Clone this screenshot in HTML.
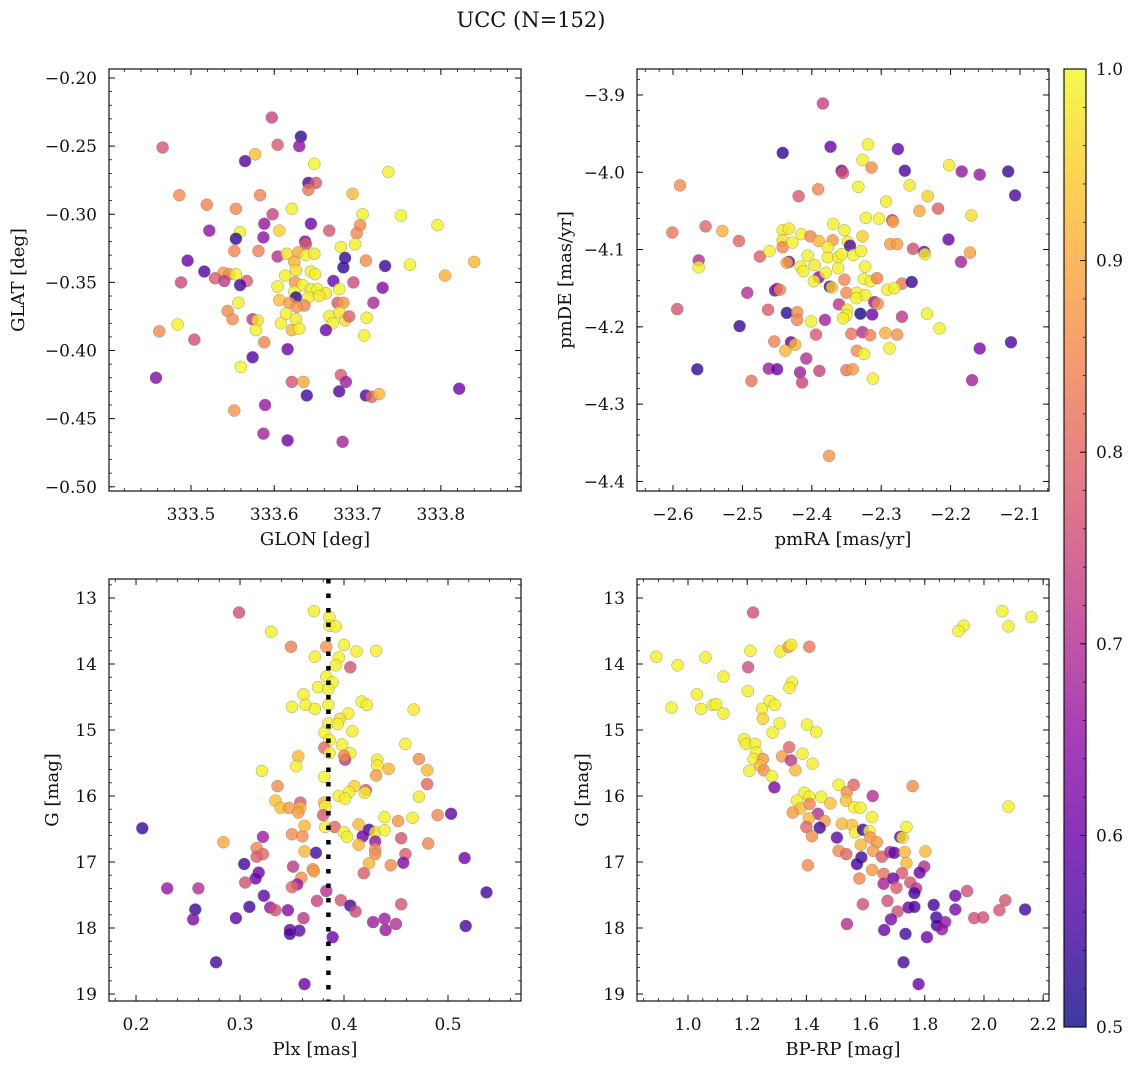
<!DOCTYPE html>
<html><head><meta charset="utf-8">
<style>
html,body{margin:0;padding:0;background:#fff;}
svg text{font-family:"DejaVu Serif","Liberation Serif",serif;fill:#111;}
</style></head>
<body>
<svg id="fig" width="1136" height="1068" viewBox="0 0 1136 1068" xmlns="http://www.w3.org/2000/svg">
<text x="531" y="27" font-size="21" text-anchor="middle">UCC (N=152)</text>
</svg>
<script>
// ---------- Panel 1: GLON / GLAT ----------
const p1_glon=[333.466,333.597,333.632,333.630,333.604,333.565,333.577,333.648,333.737,333.641,333.650,333.641,333.486,333.583,333.694,333.519,333.554,333.621,333.598,333.706,333.752,333.796,333.588,333.644,333.522,333.559,333.606,333.666,333.703,333.699,333.554,333.587,333.637,333.638,333.697,333.680,333.552,333.581,333.604,333.615,333.629,333.638,333.648,333.685,333.496,333.710,333.733,333.763,333.840,333.624,333.683,333.516,333.539,333.546,333.554,333.626,333.644,333.649,333.613,333.805,333.488,333.529,333.540,333.567,333.559,333.671,333.695,333.730,333.604,333.625,333.634,333.644,333.652,333.662,333.678,333.624,333.626,333.606,333.618,333.641,333.654,333.636,333.627,333.676,333.683,333.719,333.557,333.544,333.550,333.574,333.580,333.578,333.614,333.626,333.608,333.621,333.630,333.666,333.678,333.670,333.685,333.690,333.662,333.711,333.708,333.462,333.484,333.504,333.588,333.616,333.574,333.560,333.458,333.621,333.635,333.680,333.686,333.639,333.678,333.710,333.717,333.726,333.822,333.552,333.589,333.587,333.616,333.682];
const p1_glat=[-0.251,-0.229,-0.243,-0.250,-0.249,-0.261,-0.256,-0.263,-0.269,-0.277,-0.277,-0.282,-0.286,-0.286,-0.285,-0.293,-0.296,-0.296,-0.300,-0.300,-0.301,-0.308,-0.307,-0.307,-0.312,-0.313,-0.312,-0.312,-0.308,-0.314,-0.318,-0.317,-0.320,-0.322,-0.322,-0.324,-0.327,-0.327,-0.331,-0.329,-0.328,-0.330,-0.329,-0.332,-0.334,-0.334,-0.338,-0.337,-0.335,-0.335,-0.339,-0.342,-0.343,-0.344,-0.344,-0.341,-0.342,-0.344,-0.345,-0.345,-0.350,-0.347,-0.349,-0.349,-0.352,-0.349,-0.350,-0.354,-0.353,-0.350,-0.352,-0.355,-0.355,-0.358,-0.355,-0.357,-0.361,-0.363,-0.365,-0.361,-0.360,-0.367,-0.368,-0.365,-0.365,-0.365,-0.365,-0.371,-0.377,-0.377,-0.378,-0.385,-0.373,-0.377,-0.380,-0.385,-0.384,-0.375,-0.372,-0.380,-0.378,-0.375,-0.385,-0.376,-0.389,-0.386,-0.381,-0.392,-0.394,-0.399,-0.405,-0.412,-0.420,-0.423,-0.423,-0.418,-0.423,-0.433,-0.430,-0.433,-0.434,-0.432,-0.428,-0.444,-0.440,-0.461,-0.466,-0.467];
const p1_prob=[0.77,0.74,0.53,0.65,0.78,0.57,0.93,1.0,0.99,0.55,0.78,0.83,0.86,0.85,0.92,0.84,0.85,0.99,0.74,0.99,1.0,0.99,0.66,0.60,0.65,0.99,0.95,0.77,0.86,0.85,0.53,0.65,0.62,0.78,0.99,0.99,0.85,0.84,0.70,0.97,0.90,0.99,0.98,0.54,0.60,0.86,0.54,0.99,0.92,0.91,0.53,0.57,0.88,0.86,0.99,0.97,0.99,0.99,0.99,0.91,0.75,0.78,0.72,0.78,0.55,0.60,0.75,0.63,0.99,0.87,0.99,0.99,0.99,0.98,1.0,1.0,0.53,0.93,0.88,0.99,0.98,0.85,0.87,0.78,0.88,0.69,0.99,0.86,0.86,0.72,0.97,0.99,0.99,0.98,0.99,0.92,0.99,0.99,0.98,0.99,0.97,0.79,0.60,0.99,0.99,0.86,0.99,0.76,0.85,0.60,0.57,1.0,0.63,0.77,0.90,0.78,0.67,0.55,0.57,0.57,0.80,0.92,0.60,0.87,0.66,0.68,0.60,0.68];
const p1_xticks=[333.5,333.6,333.7,333.8];
const p1_yticks=[-0.20,-0.25,-0.30,-0.35,-0.40,-0.45,-0.50];

// ---------- Panel 2: pmRA / pmDE ----------
const p2_pmra=[-2.384,-2.442,-2.373,-2.319,-2.276,-2.327,-2.314,-2.357,-2.355,-2.266,-2.202,-2.184,-2.158,-2.117,-2.107,-2.590,-2.391,-2.419,-2.333,-2.259,-2.233,-2.293,-2.245,-2.218,-2.170,-2.601,-2.553,-2.529,-2.505,-2.475,-2.461,-2.442,-2.433,-2.415,-2.402,-2.390,-2.370,-2.369,-2.353,-2.348,-2.345,-2.327,-2.322,-2.303,-2.284,-2.283,-2.287,-2.277,-2.254,-2.238,-2.237,-2.203,-2.172,-2.185,-2.563,-2.563,-2.442,-2.442,-2.428,-2.433,-2.436,-2.416,-2.406,-2.412,-2.396,-2.390,-2.397,-2.380,-2.377,-2.377,-2.362,-2.357,-2.340,-2.329,-2.362,-2.323,-2.353,-2.325,-2.315,-2.306,-2.374,-2.371,-2.270,-2.256,-2.291,-2.281,-2.350,-2.335,-2.323,-2.336,-2.493,-2.453,-2.450,-2.446,-2.594,-2.463,-2.436,-2.421,-2.421,-2.401,-2.381,-2.361,-2.349,-2.350,-2.355,-2.330,-2.313,-2.310,-2.305,-2.270,-2.234,-2.216,-2.504,-2.394,-2.343,-2.327,-2.316,-2.294,-2.277,-2.288,-2.335,-2.325,-2.454,-2.430,-2.424,-2.438,-2.408,-2.565,-2.462,-2.450,-2.417,-2.389,-2.414,-2.487,-2.350,-2.341,-2.312,-2.158,-2.113,-2.169,-2.375];
const p2_pmde=[-3.911,-3.975,-3.967,-3.964,-3.970,-3.984,-3.994,-3.998,-4.001,-3.998,-3.991,-3.999,-4.003,-3.999,-4.030,-4.017,-4.022,-4.031,-4.019,-4.017,-4.031,-4.038,-4.050,-4.047,-4.056,-4.078,-4.070,-4.076,-4.089,-4.109,-4.102,-4.075,-4.073,-4.080,-4.083,-4.089,-4.088,-4.067,-4.075,-4.090,-4.095,-4.083,-4.059,-4.060,-4.062,-4.064,-4.093,-4.093,-4.099,-4.103,-4.106,-4.087,-4.104,-4.116,-4.114,-4.123,-4.088,-4.097,-4.091,-4.116,-4.117,-4.122,-4.108,-4.128,-4.120,-4.136,-4.141,-4.130,-4.110,-4.097,-4.110,-4.106,-4.107,-4.102,-4.124,-4.122,-4.139,-4.138,-4.141,-4.137,-4.148,-4.149,-4.144,-4.142,-4.152,-4.150,-4.156,-4.156,-4.159,-4.163,-4.156,-4.153,-4.151,-4.152,-4.177,-4.178,-4.182,-4.181,-4.191,-4.193,-4.191,-4.171,-4.178,-4.185,-4.189,-4.183,-4.184,-4.168,-4.170,-4.187,-4.183,-4.202,-4.199,-4.210,-4.209,-4.207,-4.211,-4.208,-4.210,-4.228,-4.231,-4.235,-4.219,-4.220,-4.223,-4.231,-4.241,-4.255,-4.254,-4.255,-4.259,-4.257,-4.272,-4.270,-4.256,-4.255,-4.267,-4.228,-4.220,-4.269,-4.367];
const p2_prob=[0.74,0.53,0.60,0.99,0.59,0.99,0.86,0.60,0.76,0.56,0.98,0.66,0.66,0.54,0.56,0.86,0.85,0.78,0.99,0.98,0.95,0.98,0.90,0.79,0.97,0.83,0.80,0.91,0.80,0.79,0.99,0.98,0.98,0.99,0.85,0.92,0.88,0.99,0.99,0.99,0.57,0.95,0.99,0.99,0.70,0.90,0.88,0.88,0.76,0.60,0.99,0.59,0.89,0.68,0.70,0.99,0.97,0.85,0.99,0.60,0.90,0.99,0.99,0.99,0.98,0.65,0.99,0.99,0.99,0.99,0.99,0.99,0.99,0.99,0.99,0.99,0.85,0.99,0.99,0.84,0.53,0.95,0.83,0.54,0.99,0.99,0.86,0.99,0.99,0.99,0.70,0.60,0.65,0.86,0.77,0.78,0.53,0.86,0.85,0.99,0.68,0.72,0.99,0.99,0.99,0.50,0.60,0.66,0.86,0.72,0.99,0.99,0.54,0.78,0.82,0.70,0.84,0.91,0.87,0.99,0.86,0.99,0.84,0.60,0.92,0.92,0.70,0.54,0.67,0.60,0.67,0.74,0.74,0.82,0.82,0.88,0.99,0.62,0.56,0.68,0.87];
const p2_xticks=[-2.6,-2.5,-2.4,-2.3,-2.2,-2.1];
const p2_yticks=[-3.9,-4.0,-4.1,-4.2,-4.3,-4.4];

// ---------- Panel 3: Plx / G ----------
const p3_plx=[0.299,0.371,0.386,0.386,0.392,0.330,0.349,0.383,0.400,0.412,0.431,0.372,0.395,0.392,0.406,0.383,0.389,0.375,0.385,0.361,0.363,0.350,0.372,0.385,0.417,0.422,0.467,0.404,0.396,0.385,0.394,0.408,0.381,0.386,0.459,0.381,0.398,0.386,0.406,0.401,0.400,0.356,0.354,0.321,0.432,0.432,0.443,0.472,0.480,0.480,0.431,0.381,0.336,0.410,0.421,0.420,0.405,0.395,0.401,0.472,0.334,0.339,0.347,0.358,0.358,0.356,0.381,0.382,0.380,0.490,0.503,0.466,0.452,0.439,0.382,0.391,0.400,0.403,0.414,0.424,0.418,0.430,0.439,0.414,0.430,0.455,0.481,0.206,0.284,0.322,0.350,0.360,0.362,0.316,0.316,0.322,0.373,0.362,0.430,0.430,0.459,0.457,0.424,0.445,0.419,0.516,0.304,0.318,0.315,0.351,0.370,0.371,0.359,0.305,0.355,0.350,0.230,0.260,0.323,0.383,0.374,0.397,0.406,0.411,0.455,0.537,0.257,0.255,0.296,0.309,0.329,0.334,0.346,0.361,0.348,0.348,0.357,0.389,0.428,0.439,0.440,0.450,0.517,0.277,0.362];
const p3_g=[13.22,13.20,13.29,13.42,13.43,13.51,13.74,13.74,13.71,13.81,13.80,13.89,13.90,14.02,14.05,14.19,14.28,14.35,14.38,14.46,14.62,14.65,14.68,14.62,14.57,14.62,14.69,14.75,14.83,14.90,14.91,15.02,15.04,15.15,15.21,15.27,15.22,15.35,15.35,15.45,15.39,15.40,15.55,15.62,15.45,15.54,15.59,15.44,15.61,15.82,15.69,15.71,15.85,15.85,15.91,15.95,15.94,16.00,16.04,16.01,16.07,16.18,16.18,16.10,16.18,16.25,16.10,16.16,16.29,16.29,16.27,16.33,16.38,16.32,16.47,16.47,16.55,16.62,16.43,16.51,16.61,16.55,16.52,16.74,16.69,16.64,16.72,16.49,16.70,16.62,16.58,16.61,16.45,16.79,16.92,16.88,16.86,16.84,16.81,16.88,16.88,17.01,17.02,17.05,17.17,16.94,17.03,17.16,17.25,17.07,17.11,17.14,17.24,17.31,17.34,17.38,17.40,17.40,17.51,17.44,17.59,17.58,17.66,17.75,17.64,17.46,17.72,17.87,17.85,17.68,17.69,17.73,17.73,17.85,18.03,18.09,18.04,18.14,17.91,17.86,18.03,17.94,17.97,18.52,18.85];
const p3_prob=[0.76,0.99,0.99,0.99,0.99,0.99,0.84,0.87,0.99,0.99,0.99,0.99,0.99,0.99,0.77,0.99,0.99,0.99,0.99,0.99,0.99,0.99,0.99,0.99,0.99,0.99,0.98,0.99,0.97,0.99,0.99,0.99,0.99,0.99,0.99,0.80,0.99,0.99,0.99,0.72,0.85,0.92,0.99,0.99,0.98,0.98,0.92,0.86,0.92,0.80,0.88,0.99,0.86,0.95,0.78,0.99,0.99,0.99,0.99,0.98,0.93,0.93,0.88,0.78,0.93,0.88,0.92,0.99,0.78,0.85,0.58,0.99,0.87,0.99,0.99,0.80,0.99,0.99,0.92,0.55,0.60,0.97,0.99,0.92,0.66,0.77,0.85,0.54,0.90,0.67,0.86,0.86,0.92,0.85,0.78,0.80,0.55,0.92,0.87,0.86,0.78,0.63,0.92,0.86,0.78,0.60,0.55,0.60,0.60,0.72,0.86,0.88,0.86,0.76,0.66,0.80,0.66,0.70,0.58,0.70,0.74,0.77,0.55,0.75,0.77,0.55,0.54,0.62,0.58,0.55,0.66,0.76,0.63,0.72,0.60,0.56,0.58,0.60,0.67,0.67,0.66,0.70,0.55,0.55,0.60];
const p3_xticks=[0.2,0.3,0.4,0.5];
const p3_yticks=[13,14,15,16,17,18,19];
const p3_plxMean=[0.385];

// ---------- Panel 4: BP-RP / G ----------
const p4_bprp=[1.220,0.893,0.965,1.059,0.944,1.030,1.044,1.084,1.095,1.120,1.120,1.211,1.203,1.202,1.312,1.340,1.349,1.410,1.351,1.343,1.276,1.293,1.250,1.253,1.310,1.286,1.402,1.433,2.062,2.083,2.160,1.931,1.914,2.083,1.190,1.196,1.227,1.230,1.222,1.253,1.244,1.256,1.207,1.283,1.342,1.318,1.348,1.363,1.387,1.421,1.292,1.509,1.560,1.537,1.534,1.562,1.582,1.624,1.759,1.393,1.410,1.368,1.379,1.354,1.450,1.481,1.411,1.439,1.408,1.462,1.445,1.400,1.419,1.520,1.554,1.565,1.591,1.613,1.622,1.616,1.584,1.638,1.503,1.509,1.535,1.586,1.571,1.625,1.655,1.683,1.697,1.738,1.717,1.725,1.732,1.738,1.802,1.798,1.783,1.405,1.622,1.579,1.661,1.723,1.661,1.693,1.704,1.751,1.771,1.765,1.674,1.591,1.708,1.745,1.765,1.830,1.839,1.869,1.841,1.858,1.903,1.903,1.943,1.967,1.997,2.052,2.072,2.139,1.686,1.663,1.735,1.807,1.537,1.728,1.779];
const p4_g=[13.22,13.89,14.02,13.90,14.66,14.46,14.68,14.62,14.61,14.19,14.75,13.80,14.05,14.41,13.81,13.74,13.71,13.74,14.28,14.36,14.56,14.62,14.68,14.83,14.90,15.04,14.92,15.03,13.20,13.43,13.29,13.42,13.50,16.16,15.14,15.21,15.21,15.34,15.44,15.44,15.54,15.61,15.62,15.70,15.26,15.40,15.46,15.61,15.36,15.51,15.87,15.83,15.83,15.94,16.07,16.17,16.18,16.00,15.85,15.95,16.01,16.07,16.19,16.25,16.01,16.11,16.12,16.27,16.34,16.38,16.48,16.47,16.61,16.42,16.44,16.55,16.51,16.53,16.32,16.63,16.74,16.70,16.63,16.83,16.88,16.93,17.03,16.83,16.92,16.85,16.86,16.47,16.62,16.63,16.85,17.02,16.84,17.07,17.16,17.05,17.12,17.25,17.18,17.17,17.33,17.25,17.39,17.31,17.40,17.47,17.59,17.64,17.75,17.69,17.68,17.65,17.84,17.91,17.96,18.02,17.51,17.72,17.44,17.85,17.84,17.73,17.58,17.72,17.87,18.03,18.09,18.14,17.94,18.52,18.85];
const p4_prob=[0.76,0.99,0.99,0.99,0.99,0.99,0.99,0.99,0.99,0.99,0.99,0.99,0.76,0.99,0.99,0.88,0.99,0.83,0.99,0.99,0.99,0.99,0.99,0.95,0.99,0.99,0.99,0.99,0.99,0.99,0.99,0.99,0.99,0.99,0.99,0.99,0.99,0.99,0.99,0.88,0.93,0.87,0.99,0.99,0.80,0.88,0.72,0.92,0.99,0.99,0.62,0.99,0.80,0.86,0.93,0.99,0.99,0.70,0.86,0.99,0.99,0.99,0.93,0.88,0.99,0.93,0.85,0.70,0.92,0.88,0.55,0.80,0.86,0.92,0.93,0.99,0.55,0.99,0.99,0.87,0.92,0.88,0.58,0.86,0.80,0.55,0.55,0.88,0.78,0.70,0.58,0.99,0.60,0.97,0.92,0.92,0.92,0.70,0.60,0.86,0.88,0.85,0.82,0.78,0.68,0.60,0.78,0.76,0.72,0.55,0.76,0.76,0.76,0.60,0.55,0.55,0.55,0.66,0.55,0.66,0.60,0.62,0.76,0.76,0.76,0.77,0.77,0.55,0.62,0.60,0.55,0.60,0.70,0.55,0.60];
const p4_xticks=[1.0,1.2,1.4,1.6,1.8,2.0,2.2];
const p4_yticks=[13,14,15,16,17,18,19];

// ---------- Colorbar ----------
const cb_ticks=[0.5,0.6,0.7,0.8,0.9,1.0];
const cb_range=[0.5,1.0];

const NS='http://www.w3.org/2000/svg';
const svg=document.getElementById('fig');
function el(tag,attrs,parent){const e=document.createElementNS(NS,tag);for(const k in attrs)e.setAttribute(k,attrs[k]);(parent||svg).appendChild(e);return e;}
function lin(d0,d1,r0,r1){return v=>r0+(v-d0)*(r1-r0)/(d1-d0);}
const PL=[[0,13,8,135],[0.1,65,4,157],[0.2,106,0,168],[0.3,143,13,164],[0.4,177,42,144],[0.5,204,71,120],[0.6,225,100,98],[0.7,242,132,75],[0.8,252,166,54],[0.9,252,206,37],[1,240,249,33]];
function plasma(t){t=Math.max(0,Math.min(1,t));for(let i=1;i<PL.length;i++){if(t<=PL[i][0]){const a=PL[i-1],b=PL[i],f=(t-a[0])/(b[0]-a[0]);return 'rgb('+[1,2,3].map(j=>Math.round(a[j]+f*(b[j]-a[j]))).join(',')+')';}}return 'rgb(240,249,33)';}
function fmtNum(v,d){const s=Math.abs(v).toFixed(d);return (v<0?'\u2212':'')+s;}

function panel(cfg){
  const g=el('g',{});
  
  
  const {x0,x1,y0,y1}=cfg.box;
  const sx=lin(cfg.xd[0],cfg.xd[1],x0,x1), sy=lin(cfg.yd[0],cfg.yd[1],y1,y0);
  const pts=el('g',{},g);
  
  
  for(let i=0;i<cfg.xs.length;i++){
    const c=el('circle',{cx:sx(cfg.xs[i]).toFixed(1),cy:sy(cfg.ys[i]).toFixed(1),r:6,fill:plasma((cfg.ps[i]-0.5)/0.5),'fill-opacity':0.8,stroke:'#777','stroke-width':0.5,'stroke-opacity':0.7},pts);
    
    
  }
  if(cfg.extra)cfg.extra(g,sx,sy);
  const fr=el('rect',{x:x0,y:y0,width:x1-x0,height:y1-y0,fill:'none',stroke:'#111','stroke-width':1.2},g);
  
  
  const xa=el('g',{},g);
  
  
  const lo=Math.min(cfg.xd[0],cfg.xd[1]),hi=Math.max(cfg.xd[0],cfg.xd[1]);
  for(let v=Math.ceil(lo/cfg.xminor-1e-9)*cfg.xminor;v<=hi+1e-9;v+=cfg.xminor){const x=sx(v);el('line',{x1:x,x2:x,y1:y1,y2:y1-3,stroke:'#111','stroke-width':0.8},xa);el('line',{x1:x,x2:x,y1:y0,y2:y0+3,stroke:'#111','stroke-width':0.8},xa);}
  cfg.xticks.forEach(v=>{const x=sx(v);el('line',{x1:x,x2:x,y1:y1,y2:y1-6,stroke:'#111','stroke-width':1},xa);el('line',{x1:x,x2:x,y1:y0,y2:y0+6,stroke:'#111','stroke-width':1},xa);
    const t=el('text',{x:x,y:y1+29,'font-size':17,'text-anchor':'middle'},xa);t.textContent=fmtNum(v,cfg.xdec);
    
    });
  const xl=el('text',{x:(x0+x1)/2,y:y1+54,'font-size':18,'text-anchor':'middle'},g);xl.textContent=cfg.xlabel;
  
  
  const ya=el('g',{},g);
  
  
  const ylo=Math.min(cfg.yd[0],cfg.yd[1]),yhi=Math.max(cfg.yd[0],cfg.yd[1]);
  for(let v=Math.ceil(ylo/cfg.yminor-1e-9)*cfg.yminor;v<=yhi+1e-9;v+=cfg.yminor){const y=sy(v);el('line',{x1:x0,x2:x0+3,y1:y,y2:y,stroke:'#111','stroke-width':0.8},ya);el('line',{x1:x1,x2:x1-3,y1:y,y2:y,stroke:'#111','stroke-width':0.8},ya);}
  cfg.yticks.forEach(v=>{const y=sy(v);el('line',{x1:x0,x2:x0+6,y1:y,y2:y,stroke:'#111','stroke-width':1},ya);el('line',{x1:x1,x2:x1-6,y1:y,y2:y,stroke:'#111','stroke-width':1},ya);
    const t=el('text',{x:x0-12,y:y+6,'font-size':17,'text-anchor':'end'},ya);t.textContent=fmtNum(v,cfg.ydec);
    
    });
  const yl=el('text',{x:0,y:0,'font-size':18,'text-anchor':'middle',transform:`translate(${cfg.ylabelX},${(y0+y1)/2}) rotate(-90)`},g);yl.textContent=cfg.ylabel;
  
  
}

panel({name:'sky-position-panel',box:{x0:109,x1:521,y0:69,y1:491},xd:[333.4016,333.8962],yd:[-0.5031,-0.1934],xs:p1_glon,ys:p1_glat,ps:p1_prob,xticks:p1_xticks,yticks:p1_yticks,xminor:0.02,yminor:0.01,xdec:1,ydec:2,xlabel:'GLON [deg]',ylabel:'GLAT [deg]',ylabelX:24});
panel({name:'proper-motion-panel',box:{x0:637,x1:1049,y0:69,y1:491},xd:[-2.6519,-2.0582],yd:[-4.4124,-3.8664],xs:p2_pmra,ys:p2_pmde,ps:p2_prob,xticks:p2_xticks,yticks:p2_yticks,xminor:0.02,yminor:0.02,xdec:1,ydec:1,xlabel:'pmRA [mas/yr]',ylabel:'pmDE [mas/yr]',ylabelX:571});
panel({name:'parallax-panel',box:{x0:109,x1:521,y0:579,y1:1001},xd:[0.174,0.5702],yd:[19.106,12.712],xs:p3_plx,ys:p3_g,ps:p3_prob,xticks:p3_xticks,yticks:p3_yticks,xminor:0.02,yminor:0.2,xdec:1,ydec:0,xlabel:'Plx [mas]',ylabel:'G [mag]',ylabelX:58,
  extra:(g,sx,sy)=>{const x=sx(p3_plxMean[0]);const l=el('line',{x1:x,x2:x,y1:579,y2:1001,stroke:'#000','stroke-width':4.5,'stroke-dasharray':'4.5 10'},g);
    
    }});
panel({name:'cmd-panel',box:{x0:637,x1:1049,y0:579,y1:1001},xd:[0.8277,2.2197],yd:[19.106,12.712],xs:p4_bprp,ys:p4_g,ps:p4_prob,xticks:p4_xticks,yticks:p4_yticks,xminor:0.05,yminor:0.2,xdec:1,ydec:0,xlabel:'BP-RP [mag]',ylabel:'G [mag]',ylabelX:588});

(function(){
  const cb=el('g',{});
  
  
  const defs=el('defs',{},cb);
  const lg=el('linearGradient',{id:'plg',x1:0,y1:1,x2:0,y2:0},defs);
  for(let i=0;i<=20;i++){el('stop',{offset:(i/20),'stop-color':plasma(i/20)},lg);}
  const X0=1064,X1=1086,Y0=69,Y1=1027;
  const sy=lin(cb_range[0],cb_range[1],Y1,Y0);
  el('rect',{x:X0,y:Y0,width:X1-X0,height:Y1-Y0,fill:'url(#plg)','fill-opacity':0.8},cb);
  el('rect',{x:X0,y:Y0,width:X1-X0,height:Y1-Y0,fill:'none',stroke:'#111','stroke-width':1.2},cb);
  for(let v=cb_range[0];v<=cb_range[1]+1e-9;v+=0.02){const y=sy(v);el('line',{x1:X1,x2:X1-3,y1:y,y2:y,stroke:'#111','stroke-width':0.8},cb);}
  cb_ticks.forEach(v=>{const y=sy(v);el('line',{x1:X1,x2:X1-6,y1:y,y2:y,stroke:'#111','stroke-width':1},cb);
    const t=el('text',{x:X1+10,y:y+6,'font-size':17},cb);t.textContent=v.toFixed(1);
    
    });
})();
</script>
</body></html>
